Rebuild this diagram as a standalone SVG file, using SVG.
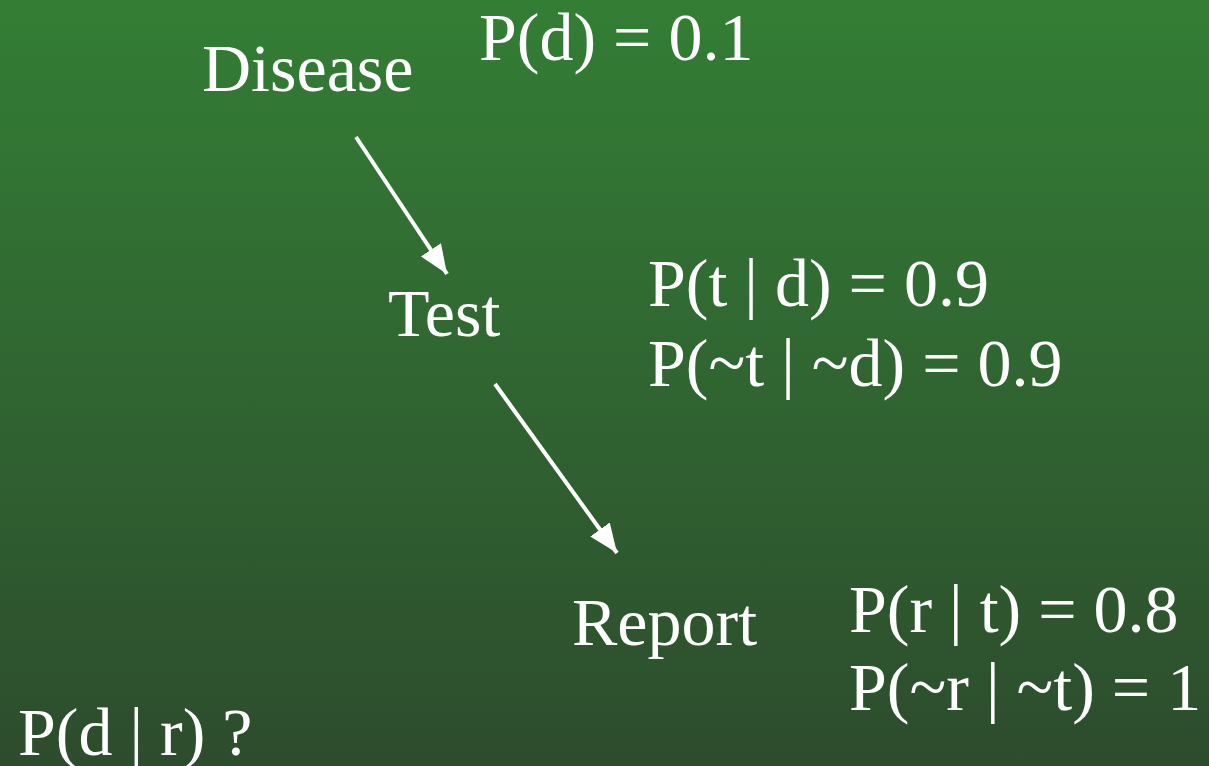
<svg xmlns="http://www.w3.org/2000/svg" width="1209" height="766" viewBox="0 0 1209 766">
<defs>
<linearGradient id="bg" x1="0" y1="0" x2="0" y2="1">
<stop offset="0" stop-color="#337e35"/>
<stop offset="1" stop-color="#2d4c2d"/>
</linearGradient>
<marker id="ah" viewBox="0 0 29 24" refX="29" refY="12" markerWidth="29" markerHeight="24" markerUnits="userSpaceOnUse" orient="auto">
<path d="M0,0 L29,12 L0,24 Z" fill="#ffffff"/>
</marker>
<style>
text{font-family:"Liberation Serif","Times New Roman",serif;font-size:68px;fill:#ffffff}
.edge{stroke:#ffffff;stroke-width:4;fill:none;marker-end:url(#ah)}
</style>
</defs>
<rect width="1209" height="766" fill="url(#bg)"/>
<g id="connectors">
<line class="edge" x1="356" y1="137" x2="447" y2="274"/>
<line class="edge" x1="495" y1="384" x2="617" y2="553"/>
</g>
<g id="disease"><text x="202" y="91">Disease</text><text x="479" y="60">P(d) = 0.1</text></g>
<g id="test"><text x="388" y="336">Test</text><text x="648" y="306">P(t | d) = 0.9</text><text x="648" y="386">P(~t | ~d) = 0.9</text></g>
<g id="report"><text x="572" y="645">Report</text><text x="849" y="632">P(r | t) = 0.8</text><text x="849" y="710">P(~r | ~t) = 1</text></g>
<g id="query"><text x="18" y="755">P(d | r) ?</text></g>
</svg>
